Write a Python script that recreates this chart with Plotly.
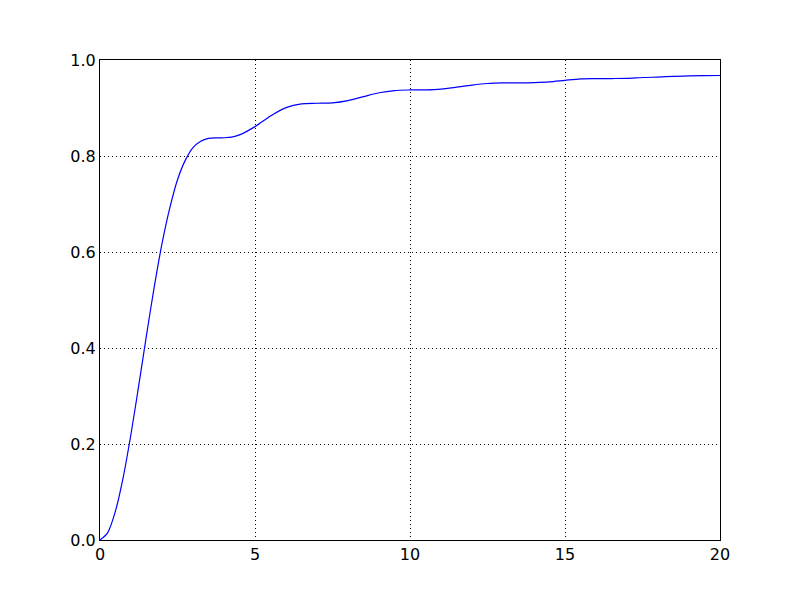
import plotly.graph_objects as go

x_vals = [0, 0.25, 0.5, 0.75, 1.0, 1.25, 1.5, 1.75, 2.0, 2.25, 2.5, 2.75, 3.0, 3.25, 3.5, 3.75,
          4.0, 4.25, 4.5, 5.0, 5.5, 6.0, 6.5, 7.0, 7.5, 8.0, 8.5, 9.0, 9.5, 10.0, 10.5, 11.0,
          11.5, 12.0, 12.5, 13.0, 13.5, 14.0, 14.5, 15.0, 15.5, 16.0, 16.5, 17.0, 17.5, 18.0,
          18.5, 19.0, 19.5, 20.0]
y_vals = [0.0, 0.0155, 0.0606, 0.1311, 0.2208, 0.3221, 0.4267, 0.5273, 0.6173, 0.6913, 0.7506,
          0.7909, 0.8174, 0.8307, 0.8366, 0.8379, 0.8380, 0.8393, 0.8439, 0.8612, 0.8834, 0.9008,
          0.9087, 0.9099, 0.9108, 0.9155, 0.9237, 0.9317, 0.9364, 0.9376, 0.9378, 0.9394, 0.9434,
          0.9478, 0.9510, 0.9522, 0.9524, 0.9530, 0.9544, 0.9577, 0.9607, 0.9612, 0.9614, 0.9617,
          0.9635, 0.9645, 0.9659, 0.9671, 0.9675, 0.9677]

x_ticks = [0, 5, 10, 15, 20]
y_ticks = [0.0, 0.2, 0.4, 0.6, 0.8, 1.0]
y_tick_text = ["0.0", "0.2", "0.4", "0.6", "0.8", "1.0"]

fig = go.Figure()
fig.add_trace(go.Scatter(x=x_vals, y=y_vals, mode="lines",
                         line=dict(color="#0000ff", width=1.2, shape="spline", smoothing=0.8),
                         showlegend=False, hoverinfo="skip"))

axis_common = dict(showline=True, linecolor="black", linewidth=1, mirror=True,
                   showgrid=True, gridcolor="black", gridwidth=1, griddash="1px,3px",
                   zeroline=False, ticks="", tickfont=dict(family="DejaVu Sans", size=16, color="black"))

fig.update_xaxes(range=[0, 20], tickvals=x_ticks, ticktext=[str(t) for t in x_ticks], **axis_common)
fig.update_yaxes(range=[0, 1.0], tickvals=y_ticks, ticktext=y_tick_text, **axis_common)

fig.update_layout(width=800, height=600, margin=dict(l=92, r=88, t=52, b=68),
                  paper_bgcolor="white", plot_bgcolor="white",
                  font=dict(family="DejaVu Sans", size=16, color="black"))

fig.write_html("out.html")
